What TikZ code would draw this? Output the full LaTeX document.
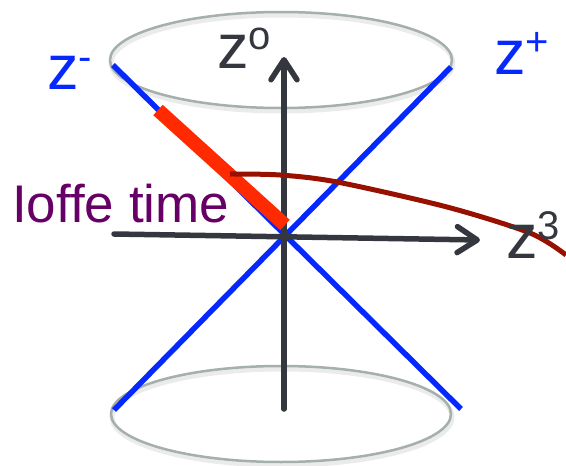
\documentclass[tikz,border=0pt]{standalone}
\usepackage{fontspec}
\setmainfont{Liberation Sans}
\usetikzlibrary{arrows.meta}
\definecolor{coneblue}{RGB}{5,40,255}
\definecolor{axisgray}{RGB}{53,55,63}
\definecolor{ioffered}{RGB}{255,42,0}
\definecolor{curvered}{RGB}{152,16,0}
\definecolor{ioffepurple}{RGB}{102,0,102}
\definecolor{rimgray}{RGB}{165,176,170}
\newcommand{\zlabel}[1]{z\raisebox{19pt}{\fontsize{40}{40}\selectfont #1}}
\tikzset{
  rim/.style={draw=rimgray, line width=2.5pt},
  rimshadow/.style={draw=black!8, line width=5pt},
  cone/.style={draw=coneblue, line width=5.5pt},
  axis/.style={draw=axisgray, line width=5.5pt, line cap=round,
    -{Straight Barb[length=20pt, width=26pt, round]}},
  zlab/.style={anchor=base west, inner sep=0pt, font=\fontsize{63}{70}\selectfont}
}
\begin{document}
\begin{tikzpicture}[x=1pt, y=-1pt]
\useasboundingbox (0,0) rectangle (566,466);
\coordinate (topL) at (113,65);
\coordinate (topR) at (451,67);
\coordinate (botL) at (114,410);
\coordinate (botR) at (461,409);
\coordinate (tlow) at (284,409);
\coordinate (ttip) at (284,57);
\coordinate (xlow) at (114,234);
\coordinate (xtip) at (480,240);
\coordinate (redA) at (158,110);
\coordinate (redB) at (285,225);
\draw[rimshadow] (282,63) ellipse [x radius=171, y radius=48];
\draw[rimshadow] (282,417) ellipse [x radius=170, y radius=48];
\draw[rim] (281,60) ellipse [x radius=171, y radius=48];
\draw[rim] (281,414) ellipse [x radius=170, y radius=48];
\draw[cone] (topL) -- (botR);
\draw[cone] (topR) -- (botL);
\draw[axis] (tlow) -- (ttip);
\draw[axis] (xlow) -- (xtip);
\draw[draw=ioffered, line width=14pt] (redA) -- (redB);
\draw[draw=curvered, line width=5pt] plot[smooth] coordinates {(230,174) (280,175) (337,182) (447,207) (530,233) (566,255)};
\node[zlab, text=coneblue] (zminus) at (47,89) {\zlabel{-}};
\node[zlab, text=coneblue] (zplus) at (494,74) {\zlabel{+}};
\node[zlab, text=axisgray] (zzero) at (217,68) {\zlabel{o}};
\node[zlab, text=axisgray] (zthree) at (506,258) {\zlabel{3}};
\node[anchor=base west, inner sep=0pt, text=ioffepurple, font=\fontsize{53}{60}\selectfont] (ioffe) at (12,222) {Ioffe time};
\end{tikzpicture}
\end{document}
